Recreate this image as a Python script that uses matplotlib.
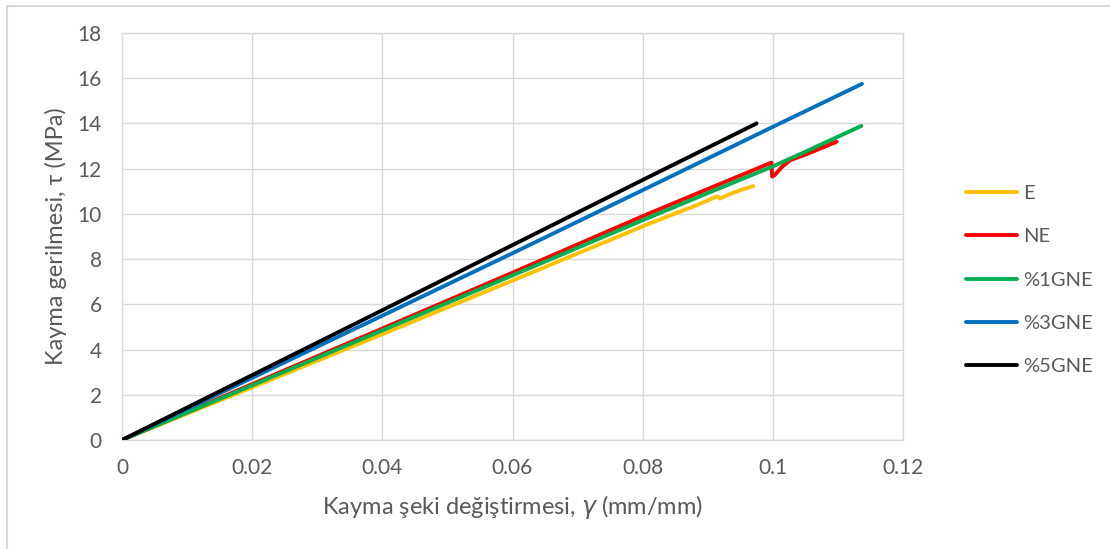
import matplotlib
matplotlib.use("Agg")
import matplotlib.pyplot as plt
from matplotlib.lines import Line2D
from matplotlib.ticker import FuncFormatter

# ---- data ----
labels = ["E", "NE", "%1GNE", "%3GNE", "%5GNE"]
colors = ["#FFC000", "#FF0000", "#00B050", "#0070C0", "#000000"]

e_x = [0, 0.02, 0.04, 0.06, 0.08, 0.085, 0.088, 0.0915, 0.0919, 0.093, 0.095, 0.097]
e_y = [0, 2.33, 4.68, 7.05, 9.45, 10.02, 10.35, 10.78, 10.68, 10.83, 11.05, 11.23]

ne_x = [0, 0.02, 0.04, 0.06, 0.08, 0.09, 0.0998, 0.0999, 0.1003, 0.1008, 0.1013, 0.102, 0.1027, 0.105, 0.1098]
ne_y = [0, 2.47, 4.93, 7.40, 9.90, 11.10, 12.27, 11.65, 11.72, 11.88, 12.05, 12.22, 12.38, 12.62, 13.19]

g1_x = [0, 0.02, 0.04, 0.06, 0.08, 0.09, 0.1, 0.105, 0.1136]
g1_y = [0, 2.42, 4.85, 7.28, 9.72, 10.92, 12.10, 12.75, 13.89]

g3_x = [0, 0.02, 0.04, 0.06, 0.08, 0.1, 0.1137]
g3_y = [0, 2.75, 5.50, 8.26, 11.05, 13.85, 15.75]

g5_x = [0, 0.02, 0.04, 0.06, 0.08, 0.0975]
g5_y = [0, 2.87, 5.74, 8.62, 11.50, 14.00]

x_ticks = [0, 0.02, 0.04, 0.06, 0.08, 0.1, 0.12]
y_ticks = [0, 2, 4, 6, 8, 10, 12, 14, 16, 18]
x_title = "Kayma şeki değiştirmesi, $\\gamma$ (mm/mm)"
y_title = "Kayma gerilmesi, τ (MPa)"

series = [(e_x, e_y), (ne_x, ne_y), (g1_x, g1_y), (g3_x, g3_y), (g5_x, g5_y)]

# ---- style ----
plt.rcParams["font.family"] = ["Lato", "DejaVu Sans"]
plt.rcParams["mathtext.fontset"] = "dejavusans"
txt = "#595959"
grid = "#D9D9D9"

fig = plt.figure(figsize=(11.1, 5.49), dpi=100)
ax = fig.add_axes([122 / 1110, 1 - 440 / 549, (903 - 122) / 1110, (440 - 33) / 549])

lw = 2.8
for (xs, ys), lab, c in zip(series, labels, colors):
    ax.plot(xs, ys, color=c, lw=lw, label=lab, solid_capstyle="round",
            solid_joinstyle="round", zorder=3)

ax.set_xlim(0, 0.12)
ax.set_ylim(0, 18)
ax.set_xticks(x_ticks)
ax.set_yticks(y_ticks)
ax.xaxis.set_major_formatter(FuncFormatter(lambda v, p: f"{v:g}"))
ax.yaxis.set_major_formatter(FuncFormatter(lambda v, p: f"{v:g}"))
ax.grid(True, color=grid, lw=1, zorder=0)
ax.set_axisbelow(True)
for s in ax.spines.values():
    s.set_color(grid)
    s.set_linewidth(1)
ax.tick_params(length=0, labelsize=15, colors=txt)
ax.tick_params(axis="x", pad=13)
ax.tick_params(axis="y", pad=14.5)

ax.set_xlabel(x_title, fontsize=17, color=txt, labelpad=11)
ax.set_ylabel(y_title, fontsize=17, color=txt)
ax.yaxis.set_label_coords((67 - 122) / 781, 0.5)

handles = [Line2D([0], [0], color=c, lw=lw, solid_capstyle="round") for c in colors]
fig.legend(handles, labels, loc="center left", bbox_to_anchor=(958 / 1110, 1 - 280 / 549),
           frameon=False, fontsize=14.5, labelcolor=txt, handlelength=2.55,
           handletextpad=0.3, labelspacing=1.3, borderaxespad=0)

# outer chart border (light gray)
fig.add_artist(Line2D([7 / 1110, 7 / 1110], [0, 1 - 6 / 549], transform=fig.transFigure,
                      color=grid, lw=1.5))
fig.add_artist(Line2D([7 / 1110, 1], [1 - 6 / 549, 1 - 6 / 549], transform=fig.transFigure,
                      color=grid, lw=1.5))

fig.savefig("out.png", dpi=100)
